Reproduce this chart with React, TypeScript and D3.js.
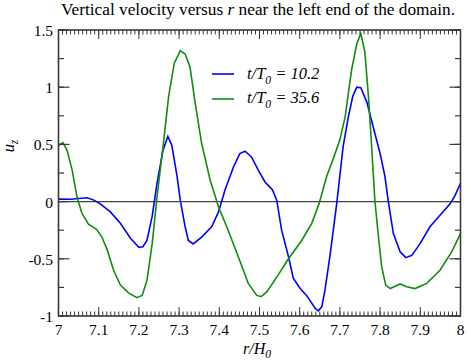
import React from "react";
import * as d3 from "d3";

// t/T0 = 10.2 (blue)
const rBlue = [7.0, 7.03, 7.071, 7.088, 7.104, 7.129, 7.154, 7.179, 7.2, 7.21, 7.22, 7.233, 7.245, 7.26, 7.272, 7.282, 7.295, 7.303, 7.315, 7.323, 7.335, 7.356, 7.381, 7.398, 7.414, 7.435, 7.451, 7.464, 7.48, 7.497, 7.514, 7.532, 7.543, 7.555, 7.572, 7.584, 7.601, 7.617, 7.638, 7.646, 7.655, 7.663, 7.675, 7.692, 7.708, 7.721, 7.732, 7.742, 7.752, 7.767, 7.783, 7.8, 7.812, 7.82, 7.833, 7.85, 7.864, 7.879, 7.899, 7.924, 7.949, 7.974, 7.986, 8.0];
const uBlue = [0.022, 0.02, 0.033, 0.013, -0.02, -0.09, -0.19, -0.32, -0.4, -0.395, -0.34, -0.13, 0.16, 0.45, 0.57, 0.49, 0.22, 0.01, -0.22, -0.34, -0.37, -0.31, -0.22, -0.09, 0.1, 0.3, 0.42, 0.44, 0.39, 0.275, 0.17, 0.105, 0.01, -0.25, -0.48, -0.67, -0.76, -0.82, -0.93, -0.955, -0.92, -0.77, -0.48, -0.02, 0.48, 0.74, 0.92, 1.0, 0.995, 0.87, 0.65, 0.42, 0.22, 0.01, -0.28, -0.44, -0.49, -0.47, -0.37, -0.22, -0.12, -0.02, 0.05, 0.16];

// t/T0 = 35.6 (green)
const rGreen = [7.0, 7.011, 7.021, 7.034, 7.046, 7.058, 7.075, 7.094, 7.108, 7.121, 7.137, 7.154, 7.175, 7.195, 7.208, 7.22, 7.233, 7.245, 7.26, 7.274, 7.288, 7.303, 7.315, 7.327, 7.34, 7.356, 7.377, 7.398, 7.422, 7.447, 7.472, 7.493, 7.504, 7.518, 7.543, 7.572, 7.605, 7.63, 7.648, 7.667, 7.684, 7.7, 7.713, 7.729, 7.742, 7.752, 7.762, 7.771, 7.779, 7.787, 7.796, 7.804, 7.814, 7.825, 7.85, 7.866, 7.887, 7.916, 7.949, 7.978, 8.0];
const uGreen = [0.49, 0.515, 0.45, 0.275, 0.04, -0.1, -0.2, -0.24, -0.31, -0.42, -0.6, -0.73, -0.8, -0.84, -0.82, -0.69, -0.37, 0.04, 0.48, 0.92, 1.21, 1.32, 1.29, 1.18, 0.86, 0.51, 0.19, -0.045, -0.25, -0.48, -0.715, -0.82, -0.83, -0.79, -0.66, -0.5, -0.34, -0.19, -0.02, 0.22, 0.38, 0.54, 0.74, 1.15, 1.38, 1.47, 1.31, 0.92, 0.48, 0.01, -0.31, -0.57, -0.73, -0.76, -0.72, -0.745, -0.76, -0.715, -0.6, -0.44, -0.28];

const xTickLabels = ["7", "7.1", "7.2", "7.3", "7.4", "7.5", "7.6", "7.7", "7.8", "7.9", "8"];
const yTickLabels = ["-1", "-0.5", "0", "0.5", "1", "1.5"];

const W = 471, H = 364;
const left = 58.5, right = 460.5, top = 30, bottom = 316;
const serif = '"Liberation Serif", "Times New Roman", Times, "DejaVu Serif", serif';

const App = () => {
  const x = d3.scaleLinear().domain([7, 8]).range([left, right]);
  const y = d3.scaleLinear().domain([-1, 1.5]).range([bottom, top]);

  const line = d3.line<[number, number]>()
    .x(d => x(d[0]))
    .y(d => y(d[1]));

  const blue = rBlue.map((r, i) => [r, uBlue[i]] as [number, number]);
  const green = rGreen.map((r, i) => [r, uGreen[i]] as [number, number]);

  const xMajor = x.ticks(10);
  const xMinor = x.ticks(100);
  const yMajor = y.ticks(5);
  const yMinor = d3.range(-1, 1.51, 0.25);

  const axisCol = "#3a3a3a";
  const txt = { fontFamily: serif };

  return (
    <svg width={W} height={H} style={{ position: "absolute", left: 0, top: 0, background: "#fff" }}>
      <text x={258} y={15} textAnchor="middle" style={txt} fontSize={17.3}>
        Vertical velocity versus <tspan fontStyle="italic">r</tspan> near the left end of the domain.
      </text>

      {/* zero line */}
      <line x1={left} x2={right} y1={y(0)} y2={y(0)} stroke="#444" strokeWidth={1.1} />

      <path d={line(blue) || ""} fill="none" stroke="#0000ff" strokeWidth={1.6} />
      <path d={line(green) || ""} fill="none" stroke="#108c10" strokeWidth={1.6} />

      {/* frame */}
      <rect x={left} y={top} width={right - left} height={bottom - top} fill="none" stroke={axisCol} strokeWidth={1.6} />

      {/* x ticks, bottom and top */}
      <g stroke={axisCol} strokeWidth={1}>
        {xMinor.map((t, i) => (
          <g key={"xm" + i}>
            <line x1={x(t)} x2={x(t)} y1={bottom} y2={bottom - 4.5} />
            <line x1={x(t)} x2={x(t)} y1={top} y2={top + 4.5} />
          </g>
        ))}
        {xMajor.map((t, i) => (
          <g key={"xM" + i}>
            <line x1={x(t)} x2={x(t)} y1={bottom} y2={bottom - 9} />
            <line x1={x(t)} x2={x(t)} y1={top} y2={top + 9} />
          </g>
        ))}
      </g>
      {/* y ticks, left and right */}
      <g stroke={axisCol} strokeWidth={1.2}>
        {yMinor.map((t, i) => (
          <g key={"ym" + i}>
            <line x1={left} x2={left + 5.5} y1={y(t)} y2={y(t)} />
            <line x1={right} x2={right - 5.5} y1={y(t)} y2={y(t)} />
          </g>
        ))}
        {yMajor.map((t, i) => (
          <g key={"yM" + i}>
            <line x1={left} x2={left + 11} y1={y(t)} y2={y(t)} />
            <line x1={right} x2={right - 11} y1={y(t)} y2={y(t)} />
          </g>
        ))}
      </g>

      <g style={txt} fontSize={15.5}>
        {xMajor.map((t, i) => (
          <text key={"xl" + i} x={x(t)} y={335} textAnchor="middle">{xTickLabels[i]}</text>
        ))}
        {yMajor.map((t, i) => (
          <text key={"yl" + i} x={53} y={y(t) + 6} textAnchor="end">{yTickLabels[i]}</text>
        ))}
      </g>

      {/* axis titles */}
      <text x={257} y={354} textAnchor="middle" style={txt} fontSize={16} fontStyle="italic">
        r/H<tspan fontSize={11.5} dy={4}>0</tspan>
      </text>
      <text transform="translate(14,146) rotate(-90)" textAnchor="middle" style={txt} fontSize={16.5} fontStyle="italic">
        u<tspan fontSize={11.5} dy={4}>z</tspan>
      </text>

      {/* legend */}
      <line x1={212} x2={234} y1={74} y2={74} stroke="#0000ff" strokeWidth={1.6} />
      <line x1={212} x2={234} y1={99} y2={99} stroke="#108c10" strokeWidth={1.6} />
      <g style={txt} fontSize={16.5} fontStyle="italic">
        <text x={247} y={78.5}>t/T<tspan fontSize={11.5} dy={5}>0</tspan><tspan dy={-5}> = 10.2</tspan></text>
        <text x={247} y={103}>t/T<tspan fontSize={11.5} dy={5}>0</tspan><tspan dy={-5}> = 35.6</tspan></text>
      </g>
    </svg>
  );
};

export default App;
